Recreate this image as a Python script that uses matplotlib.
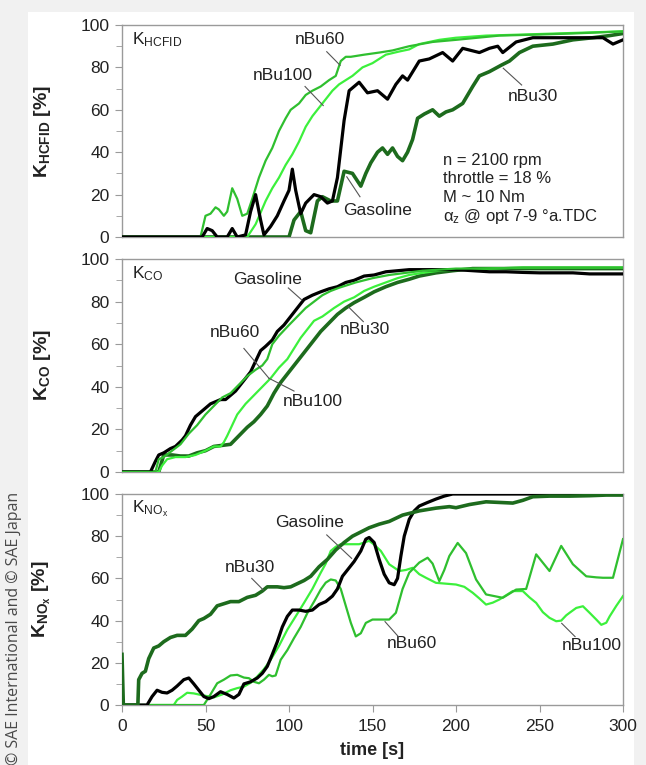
import matplotlib
matplotlib.use("Agg")
import matplotlib.pyplot as plt
from matplotlib.patches import Rectangle
from matplotlib.ticker import MultipleLocator

plt.rcParams['font.family'] = ['Liberation Sans', 'DejaVu Sans']
plt.rcParams['mathtext.fontset'] = 'custom'
plt.rcParams['mathtext.rm'] = 'Liberation Sans'
plt.rcParams['mathtext.it'] = 'Liberation Sans:italic'
plt.rcParams['mathtext.bf'] = 'Liberation Sans:bold'

# ---------------- data: HC FID ----------------
gas_hc_t = [0, 48, 51, 54, 57, 63, 66, 69, 74, 77, 80, 83, 85, 89, 93, 97, 100, 102, 104, 107, 110, 115, 119, 123, 126, 129,
            133, 136, 142, 147, 153, 159, 164, 168, 171, 178, 184, 192, 198, 204, 214, 220, 225, 228, 236, 246, 258, 270,
            288, 294, 300]
gas_hc_v = [0, 0, 4, 3, 0, 0, 4, 0, 1, 12, 20, 8, 1, 5, 10, 17, 22, 32, 22, 11, 16, 20, 19, 16, 17, 28,
            55, 69, 73, 68, 69, 65, 72, 76, 74, 83, 84, 87, 83, 89, 87, 89, 90, 87, 92, 94, 94, 94,
            94, 91, 93]
bu30_hc_t = [0, 100, 103, 107, 110, 113, 117, 120, 125, 129, 133, 138, 143, 146, 149, 153, 156, 159, 162, 165, 168, 171,
             174, 177, 181, 186, 190, 194, 198, 204, 210, 214, 220, 227, 232, 238, 246, 258, 270, 282, 292, 300]
bu30_hc_v = [0, 0, 8, 12, 3, 2, 17, 19, 17, 17, 31, 30, 24, 30, 35, 40, 42, 39, 42, 38, 36, 40,
             46, 56, 58, 60, 57, 59, 60, 63, 71, 76, 78, 81, 83, 87, 90, 91, 93, 94, 95, 96]
bu60_hc_t = [0, 47, 50, 53, 56, 58, 61, 63, 66, 69, 72, 75, 78, 82, 86, 90, 94, 98, 101, 106, 110, 114, 119, 124, 128,
             131, 134, 137, 145, 154, 162, 172, 186, 200, 226, 250, 270, 286, 300]
bu60_hc_v = [0, 0, 10, 11, 14, 13, 10, 12, 23, 18, 10, 11, 18, 28, 36, 42, 50, 56, 60, 63, 67, 69, 71, 74, 76,
             83, 85, 85, 86, 87, 88, 90, 92, 93, 95, 95.5, 96, 96.5, 97]
bu100_hc_t = [0, 75, 80, 86, 90, 94, 98, 102, 106, 110, 114, 118, 122, 126, 130, 138, 144, 150, 158, 166, 172, 178, 190,
              200, 218, 240, 260, 280, 300]
bu100_hc_v = [0, 0, 6, 17, 23, 28, 34, 39, 45, 52, 57, 61, 65, 69, 72, 76, 80, 82, 86, 87.5, 88.5, 91, 93,
              94, 95, 95.5, 96, 96.5, 97]

# ---------------- data: CO ----------------
gas_co_t = [0, 17, 20, 22, 25, 29, 32, 36, 38, 41, 44, 47, 50, 53, 56, 59, 62, 65, 68, 71, 74, 77, 80, 83, 86, 90, 93,
            97, 101, 105, 109, 114, 119, 124, 129, 134, 139, 145, 151, 158, 165, 172, 178, 190, 200, 210, 220, 230, 240,
            250, 260, 270, 280, 290, 300]
gas_co_v = [0, 0, 5, 8, 9, 11, 12, 15, 17, 22, 26, 28, 30, 32, 33, 34, 34, 36, 38, 41, 44, 47, 52, 57, 59, 62, 66,
            69, 73, 77, 81, 83, 84.6, 86, 87, 89, 90, 92, 92.5, 94, 94.5, 95, 95, 95, 95, 94.5, 94, 94, 93.7,
            93.5, 93.5, 93.5, 93, 93, 93]
bu60_co_t = [0, 20, 22, 25, 30, 35, 40, 45, 50, 55, 60, 65, 70, 75, 80, 84, 87, 90, 94, 100, 105, 110, 115, 120, 125,
             130, 140, 150, 160, 170, 180, 200, 220, 240, 260, 280, 300]
bu60_co_v = [0, 0, 6, 7, 10, 13, 18, 22, 27, 31, 35, 37, 41, 45, 48, 50, 53, 60, 64, 69, 73, 77, 80, 83, 85,
             86.5, 89, 91, 92.5, 93.5, 94.5, 95.5, 95.5, 96, 96, 96, 96]
bu100_co_t = [0, 22, 24, 27, 32, 38, 44, 50, 55, 59, 61, 63, 66, 69, 74, 79, 84, 89, 94, 99, 103, 107, 111, 115, 120,
              127, 133, 139, 145, 151, 158, 165, 172, 180, 190, 200, 220, 240, 260, 280, 300]
bu100_co_v = [0, 0, 3, 6, 7, 7, 8, 10, 12, 12, 14, 17, 22, 27, 32, 36, 40, 44, 49, 53, 58, 63, 67, 71, 73,
              77, 80, 82, 85, 87, 89, 91, 92.5, 93.5, 94.5, 95, 95.5, 96, 96, 96, 96]
bu30_co_t = [0, 22, 25, 30, 35, 40, 45, 50, 55, 60, 65, 70, 75, 79, 83, 87, 91, 95, 99, 103, 107, 111, 115, 119, 124,
             129, 134, 139, 145, 151, 158, 165, 172, 178, 188, 198, 210, 230, 250, 270, 290, 300]
bu30_co_v = [0, 0, 8, 8, 7.5, 7.5, 9, 10, 12, 12.5, 13, 17, 21, 23.6, 27, 31, 37, 42, 46, 50, 54, 58, 62, 66, 70,
             74, 77, 79.5, 82, 84.6, 87, 89, 90.5, 92, 93.5, 94.5, 95.5, 95.5, 95.5, 95.5, 95.5, 95.5]

# ---------------- data: NOx ----------------
bu30_nox_t = [0, 0.8, 9.5, 10, 12, 14, 16, 19, 22, 25, 29, 33, 38, 42, 46, 49, 53, 57, 61, 65, 70, 75, 80, 84, 87, 90,
              93, 97, 101, 105, 109, 113, 118, 123, 128, 133, 138, 143, 148, 154, 160, 168, 178, 188, 196, 200, 208,
              218, 226, 234, 240, 246, 256, 268, 280, 290, 300]
bu30_nox_v = [24, 0, 0, 12, 15, 16, 22, 27, 28, 30, 32, 33, 33, 36, 40, 41, 43, 47, 48, 49, 49, 51, 52, 54, 56, 56,
              56, 55.6, 56, 57.5, 59, 61, 65.5, 69, 73.5, 77, 80, 82, 84, 85.7, 87, 90, 92, 93.3, 94, 93.5, 95,
              96.3, 96, 95.7, 97, 98.7, 99, 99, 99.2, 99.5, 99.5]
gas_nox_t = [0, 15, 18, 21, 24, 27, 30, 33, 37, 40, 43, 46, 49, 52, 55, 59, 63, 67, 70, 73, 77, 81, 84, 87, 90, 93,
             96, 99, 102, 106, 110, 114, 118, 122, 126, 129, 132, 135, 139, 143, 146, 148, 151, 154, 157, 160, 163,
             165, 167, 169, 172, 175, 178, 183, 188, 193, 198, 300]
gas_nox_v = [0, 0, 4, 7, 6, 5.7, 7, 9, 12, 12.8, 10, 7, 4, 3, 4, 6.3, 5, 3.3, 5, 10, 11, 12.8, 15, 18.3, 24, 30,
             37, 42, 45, 45, 44.4, 45, 47.6, 49, 51.6, 55, 61, 64, 68, 73, 78.6, 79.4, 77, 69, 62, 57.9, 57,
             60, 70.6, 80, 88, 92, 94.3, 96, 97.6, 99, 100, 100]
bu60_nox_t = [0, 49, 53, 57, 61, 65, 69, 73, 76, 79, 82, 85, 88, 90, 92, 95, 99, 103, 107, 111, 115, 119, 122, 125,
              128, 131, 134, 137, 140, 143, 146, 150, 155, 160, 164, 168, 172, 178, 183, 186, 190, 193, 196, 201, 206,
              212, 218, 228, 236, 242, 248, 256, 263, 270, 278, 284, 288, 294, 300]
bu60_nox_v = [0, 0, 5, 10.3, 12, 14, 14.3, 13, 12.7, 11, 10.3, 12, 14.3, 13.6, 14, 21.4, 26, 31.7, 37, 43.6, 49, 54.7,
              58, 59.5, 59, 55, 47, 39, 32.5, 34, 38.9, 40.5, 40.5, 40.5, 43.7, 55, 62.7, 67.5, 69.8, 67, 58.7, 64,
              70.6, 76.8, 72, 59.5, 52.4, 50.8, 54.7, 55, 71.4, 63.5, 75.4, 66.7, 61, 60.5, 60.3, 60.3, 78.6]
bu100_nox_t = [0, 31, 33, 36, 39, 43, 47, 51, 55, 60, 65, 69, 73, 77, 81, 85, 89, 94, 99, 104, 109, 114, 119, 122,
               125, 128, 131, 136, 142, 148, 151, 155, 160, 166, 170, 174, 178, 182, 188, 194, 200, 205, 210, 214, 218,
               222, 226, 230, 234, 240, 244, 248, 252, 256, 260, 263, 266, 268, 272, 276, 280, 284, 287, 290, 292, 296,
               300]
bu100_nox_v = [0, 0, 2.4, 4, 5.8, 5.5, 4.8, 4.2, 3.6, 5, 7, 8, 8.7, 10.5, 13.5, 17, 21.4, 28, 35.7, 42, 48.4, 55,
               62.7, 67, 73, 75, 76.2, 76.2, 76.2, 77.8, 76, 73, 66.7, 63.5, 64, 65, 62, 60.3, 57.9, 57.5, 57.1,
               56, 53.2, 50.5, 47.6, 48.5, 50, 52, 54, 54, 51, 48.4, 44, 41.3, 39.7, 40, 42.5, 43.7, 46, 46.8,
               43.7, 40.5, 38, 39, 42, 47, 51.6]

x_ticks = [0, 50, 100, 150, 200, 250, 300]
y_ticks = [0, 20, 40, 60, 80, 100]

# ---------------- styles ----------------
C_GAS = '#000000'
C_BU30 = '#1d6b1d'
C_BU60 = '#2fbf2f'
C_BU100 = '#3cf03c'
LW = {'gas': 2.3, 'bu30': 2.6, 'bu60': 1.6, 'bu100': 1.6}
TXT = '#222222'
LEAD = '#555555'
FS = 12.5
YL_FS = 14

W, H = 646, 765
fig = plt.figure(figsize=(W / 100, H / 100), dpi=100)
fig.patch.set_facecolor('#f1f1f1')
card = Rectangle((28 / W, 0), (634 - 28) / W, 1 - 12 / H, transform=fig.transFigure,
                 facecolor='white', edgecolor='none', zorder=-5)
fig.add_artist(card)

left = 122 / W
width = (623 - 122) / W
panels_px = [(25, 237), (259, 472), (494, 705)]
axes = []
for top, bot in panels_px:
    ax = fig.add_axes([left, 1 - bot / H, width, (bot - top) / H])
    axes.append(ax)


def style(ax, show_x):
    ax.set_xlim(0, 300)
    ax.set_ylim(0, 100)
    ax.set_xticks(x_ticks)
    ax.set_yticks(y_ticks)
    ax.yaxis.set_minor_locator(MultipleLocator(10))
    for s in ax.spines.values():
        s.set_color('#9a9a9a')
        s.set_linewidth(1.0)
    ax.tick_params(axis='y', which='major', direction='out', length=5, color='#9a9a9a', labelsize=FS,
                   labelcolor=TXT, pad=4)
    ax.tick_params(axis='y', which='minor', direction='out', length=4, color='#9a9a9a')
    if show_x:
        ax.tick_params(axis='x', direction='out', length=5, color='#9a9a9a', labelsize=FS, labelcolor=TXT, pad=5)
    else:
        ax.tick_params(axis='x', length=0, labelbottom=False)
    ax.set_facecolor('white')


def lead(ax, text, tx, ty, x0, y0, x1, y1):
    ax.text(tx, ty, text, ha='center', va='center', fontsize=FS, color=TXT, zorder=6)
    ax.plot([x0, x1], [y0, y1], color=LEAD, lw=0.8, zorder=6, clip_on=False)


# Panel 1: HC
ax = axes[0]
style(ax, False)
ax.plot(bu30_hc_t, bu30_hc_v, color=C_BU30, lw=LW['bu30'], zorder=3)
ax.plot(bu100_hc_t, bu100_hc_v, color=C_BU100, lw=LW['bu100'], zorder=3)
ax.plot(bu60_hc_t, bu60_hc_v, color=C_BU60, lw=LW['bu60'], zorder=3)
ax.plot(gas_hc_t, gas_hc_v, color=C_GAS, lw=LW['gas'], zorder=4)
ax.set_ylabel(r'K$_{\mathbf{HCFID}}$ [%]', fontsize=YL_FS, fontweight='bold', color=TXT)
ax.text(6, 93, r'K$_{\mathrm{HCFID}}$', fontsize=FS, color=TXT, ha='left', va='center')
lead(ax, 'nBu60', 118.6, 93, 122.6, 87.4, 130.6, 81)
lead(ax, 'nBu100', 96.4, 76.4, 109.6, 71, 120.5, 62)
lead(ax, 'Gasoline', 153, 12.7, 134.6, 28.4, 142.5, 19)
lead(ax, 'nBu30', 246, 66.5, 228.3, 79.6, 239.3, 71.7)
info = ['n = 2100 rpm', 'throttle = 18 %', 'M ~ 10 Nm', r'α$_\mathrm{z}$ @ opt 7-9 °a.TDC']
for i, line in enumerate(info):
    ax.text(192, 36.3 - i * 8.9, line, fontsize=12, color=TXT, ha='left', va='center')

# Panel 2: CO
ax = axes[1]
style(ax, False)
ax.plot(bu30_co_t, bu30_co_v, color=C_BU30, lw=LW['bu30'], zorder=3)
ax.plot(bu100_co_t, bu100_co_v, color=C_BU100, lw=LW['bu100'], zorder=3)
ax.plot(gas_co_t, gas_co_v, color=C_GAS, lw=LW['gas'], zorder=4)
ax.plot(bu60_co_t, bu60_co_v, color=C_BU60, lw=LW['bu60'], zorder=5)
ax.set_ylabel(r'K$_{\mathbf{CO}}$ [%]', fontsize=YL_FS, fontweight='bold', color=TXT)
ax.text(6, 93, r'K$_{\mathrm{CO}}$', fontsize=FS, color=TXT, ha='left', va='center')
lead(ax, 'Gasoline', 87.4, 90.6, 99.6, 86.4, 107.6, 80.8)
lead(ax, 'nBu60', 67.7, 65.3, 73, 58, 88, 44)
lead(ax, 'nBu100', 114.4, 33.3, 88, 44, 103, 38)
lead(ax, 'nBu30', 145.5, 67, 135.5, 77.6, 144.5, 70.6)

# Panel 3: NOx
ax = axes[2]
style(ax, True)
ax.plot(bu100_nox_t, bu100_nox_v, color=C_BU100, lw=LW['bu100'], zorder=3)
ax.plot(bu60_nox_t, bu60_nox_v, color=C_BU60, lw=LW['bu60'], zorder=3)
ax.plot(gas_nox_t, gas_nox_v, color=C_GAS, lw=LW['gas'], zorder=4)
ax.plot(bu30_nox_t, bu30_nox_v, color=C_BU30, lw=LW['bu30'], zorder=4)
ax.set_ylabel(r'K$_{\mathbf{NO}_{\mathbf{x}}}$ [%]', fontsize=YL_FS, fontweight='bold', color=TXT)
ax.text(6, 93, r'K$_{\mathrm{NO}_{\mathrm{x}}}$', fontsize=FS, color=TXT, ha='left', va='center')
lead(ax, 'Gasoline', 112.6, 86.3, 122.6, 80.6, 137.5, 69.5)
lead(ax, 'nBu30', 76.6, 65, 77.7, 60, 84.6, 54.5)
lead(ax, 'nBu60', 173.6, 29, 157.5, 39.5, 165.5, 32.4)
lead(ax, 'nBu100', 281.4, 28, 263.3, 38.7, 271.3, 32.4)
ax.set_xlabel('time [s]', fontsize=13, fontweight='bold', color=TXT, labelpad=6)

# align y labels: right edge of rotated label near x=53 px
for a in axes:
    a.yaxis.set_label_coords(-(122 - 53) / (623 - 122), 0.5)

fig.text(14 / W, 0.0, '© SAE International and © SAE Japan', rotation=90, ha='center', va='bottom',
         fontsize=11.5, color='#4a4a4a', family=['Open Sans', 'DejaVu Sans'])

fig.savefig('out.png', dpi=100, facecolor=fig.get_facecolor())
